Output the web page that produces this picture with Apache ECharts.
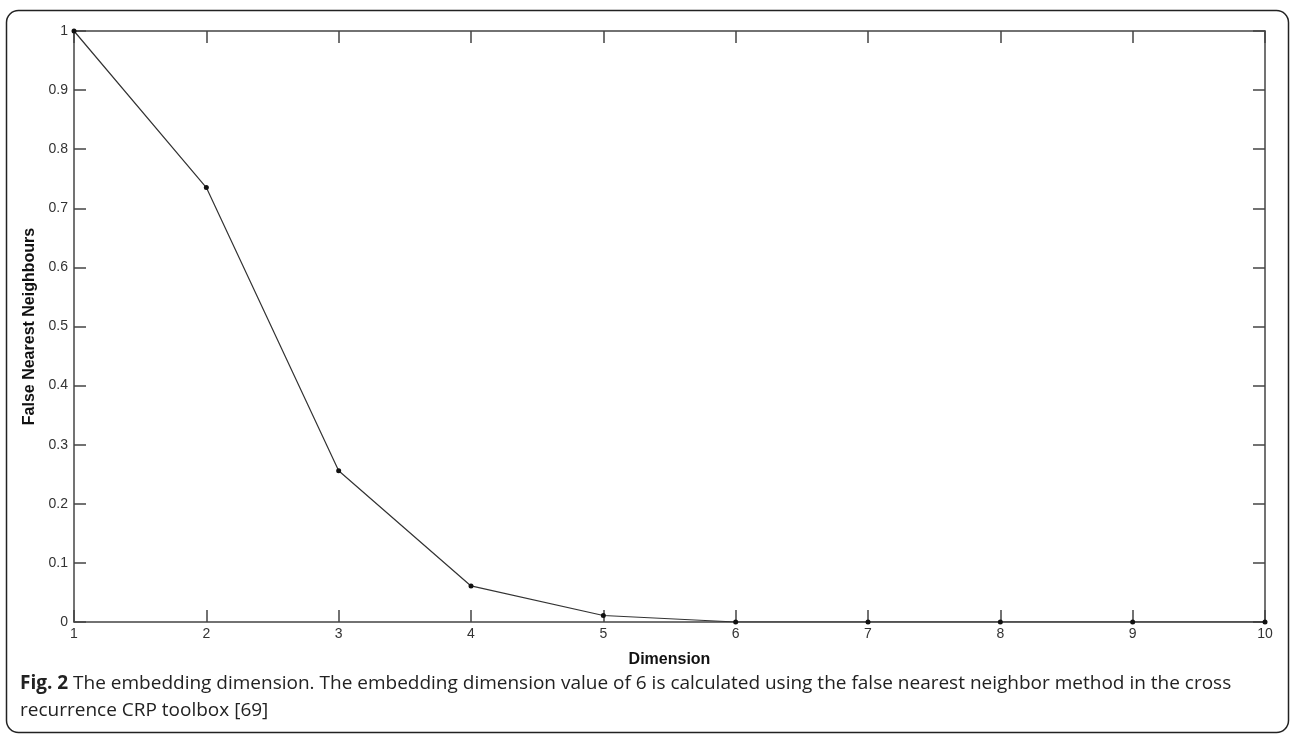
<!DOCTYPE html>
<html>
<head>
<meta charset="utf-8">
<title>Embedding dimension</title>
<script src="https://cdn.jsdelivr.net/npm/echarts@6/dist/echarts.min.js"></script>
<style>
  html, body { margin: 0; padding: 0; background: #fff; }
  #main { width: 1290px; height: 734px; }
</style>
</head>
<body>
<div id="main"></div>
<script>
// data
var dims = [1, 2, 3, 4, 5, 6, 7, 8, 9, 10];
var fnn = [1, 0.735, 0.256, 0.061, 0.011, 0, 0, 0, 0, 0];
var yTicks = [0, 0.1, 0.2, 0.3, 0.4, 0.5, 0.6, 0.7, 0.8, 0.9, 1];

var chart = echarts.init(document.getElementById('main'));

var axisCol = '#444';
var lblStyle = { color: '#333', fontFamily: 'Arial, "Liberation Sans", sans-serif', fontSize: 14 };

function xAx(pos, showLbl) {
  return {
    type: 'value', position: pos, min: 1, max: 10, interval: 1,
    axisLine: { show: true, onZero: false, lineStyle: { color: axisCol, width: 1.5 } },
    axisTick: { show: true, inside: true, length: 12, lineStyle: { color: axisCol, width: 1.5 } },
    axisLabel: Object.assign({ show: showLbl, margin: 5 }, lblStyle),
    splitLine: { show: false },
    name: showLbl ? 'Dimension' : '',
    nameLocation: 'middle', nameGap: 30,
    nameTextStyle: { color: '#111', fontSize: 16, fontWeight: 'bold', fontFamily: 'Arial, "Liberation Sans", sans-serif' }
  };
}
function yAx(pos, showLbl) {
  return {
    type: 'value', position: pos, min: 0, max: 1, interval: 0.1,
    axisLine: { show: true, onZero: false, lineStyle: { color: axisCol, width: 1.5 } },
    axisTick: { show: true, inside: true, length: 12, lineStyle: { color: axisCol, width: 1.5 } },
    axisLabel: Object.assign({ show: showLbl, margin: 6,
      formatter: function (v) { return String(+v.toFixed(1)); } }, lblStyle),
    splitLine: { show: false },
    name: showLbl ? 'False Nearest Neighbours' : '',
    nameLocation: 'middle', nameGap: 34, nameRotate: 90,
    nameTextStyle: { color: '#111', fontSize: 16, fontWeight: 'bold', fontFamily: 'Arial, "Liberation Sans", sans-serif' }
  };
}

chart.setOption({
  animation: false,
  backgroundColor: '#fff',
  grid: { left: 74, right: 25, top: 31, bottom: 112, containLabel: false },
  xAxis: [xAx('bottom', true), xAx('top', false)],
  yAxis: [yAx('left', true), yAx('right', false)],
  series: [{
    type: 'line',
    data: dims.map(function (d, i) { return [d, fnn[i]]; }),
    symbol: 'circle', symbolSize: 5,
    itemStyle: { color: '#111' },
    lineStyle: { color: '#333', width: 1.2 },
    z: 5
  }],
  graphic: [
    {
      type: 'rect', left: 4, top: 8,
      shape: { width: 1282, height: 722, r: 12 },
      style: { fill: 'none', stroke: '#222', lineWidth: 1.5 },
      silent: true
    },
    {
      type: 'text', left: 20, top: 670,
      style: {
        text: '{b|Fig. 2} The embedding dimension. The embedding dimension value of 6 is calculated using the false nearest neighbor method in the cross\nrecurrence CRP toolbox [69]',
        fill: '#222', font: '19px "Open Sans", "Noto Sans", sans-serif', lineHeight: 27,
        rich: { b: { fontWeight: 'bold', fontSize: 19, fontFamily: '"Open Sans", "Noto Sans", sans-serif', fill: '#222' } }
      }
    }
  ]
});
</script>
</body>
</html>
